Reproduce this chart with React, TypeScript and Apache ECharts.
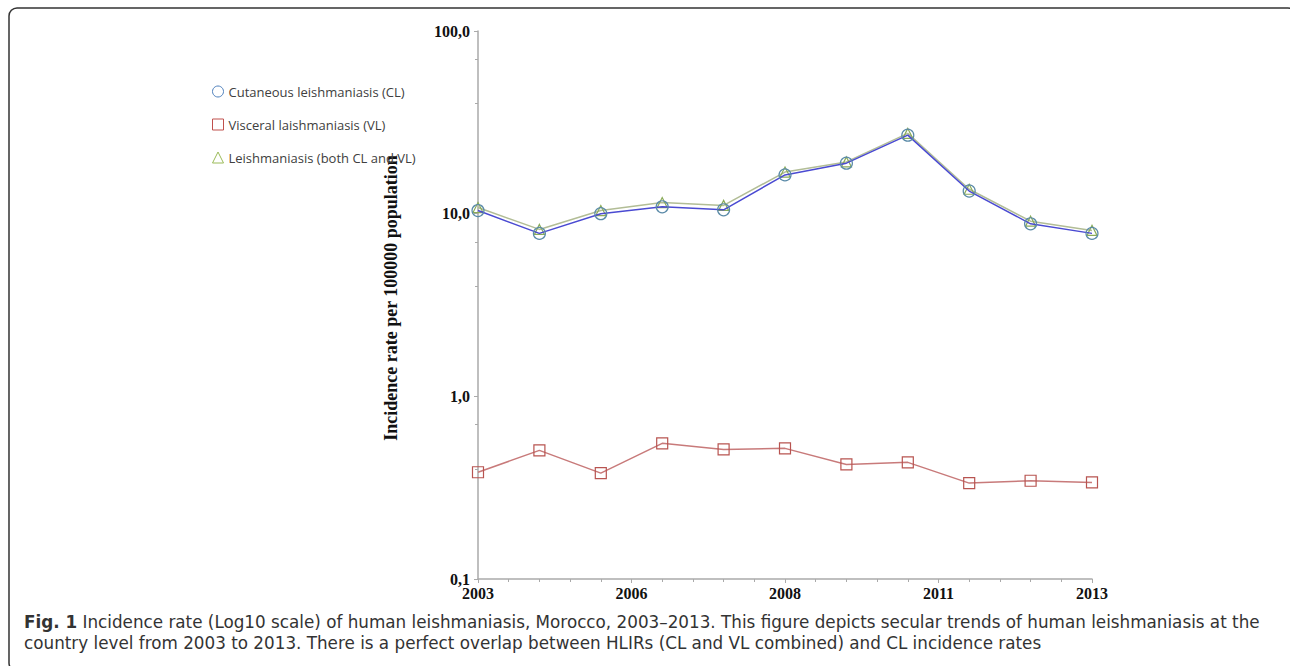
import React, { useEffect, useRef } from "react";
import * as echarts from "echarts";

const years = [2003, 2004, 2005, 2006, 2007, 2008, 2009, 2010, 2011, 2012, 2013];
const clValues = [10.4, 7.8, 10.0, 10.9, 10.5, 16.3, 18.9, 26.9, 13.3, 8.8, 7.8];
const vlValues = [0.384, 0.506, 0.38, 0.553, 0.512, 0.519, 0.424, 0.435, 0.335, 0.345, 0.338];
const bothValues = [10.8, 8.2, 10.4, 11.5, 11.1, 16.9, 19.2, 27.5, 13.6, 9.1, 8.1];
const seriesNames = [
  "Cutaneous leishmaniasis (CL)",
  "Visceral laishmaniasis (VL)",
  "Leishmaniasis (both CL and VL)",
];
const yAxisName = "Incidence rate per 100000 population";
const captionBold = "Fig. 1";
const captionLine1 =
  " Incidence rate (Log10 scale) of human leishmaniasis, Morocco, 2003\u20132013. This figure depicts secular trends of human leishmaniasis at the";
const captionLine2 =
  "country level from 2003 to 2013. There is a perfect overlap between HLIRs (CL and VL combined) and CL incidence rates";

const baseYear = years[0];
const toPoints = (vals: number[]) => vals.map((v, i) => [years[i] - baseYear, v]);

export default function App() {
  const ref = useRef<HTMLDivElement>(null);
  useEffect(() => {
    if (!ref.current) return;
    const chart = echarts.init(ref.current, null, { renderer: "svg" });
    const serif = "'Liberation Serif', 'Times New Roman', serif";
    const sans = "'Open Sans', 'Noto Sans', sans-serif";
    const captionFont = "'DejaVu Sans', 'Open Sans', sans-serif";
    chart.setOption({
      animation: false,
      backgroundColor: "#ffffff",
      grid: { left: 478, right: 198, top: 31, bottom: 87, containLabel: false },
      legend: {
        orient: "vertical",
        left: 207,
        top: 79,
        itemWidth: 11,
        itemHeight: 11,
        itemGap: 18,
        textStyle: { fontFamily: sans, fontSize: 13, color: "#404040", lineHeight: 15 },
        data: [
          { name: seriesNames[0], icon: "circle", itemStyle: { color: "rgba(0,0,0,0)", borderColor: "#4f81bd", borderWidth: 1 } },
          { name: seriesNames[1], icon: "rect", itemStyle: { color: "rgba(0,0,0,0)", borderColor: "#c0504d", borderWidth: 1 } },
          { name: seriesNames[2], icon: "triangle", itemStyle: { color: "rgba(0,0,0,0)", borderColor: "#9bbb59", borderWidth: 1 } },
        ],
      },
      xAxis: {
        type: "value",
        min: 0,
        max: years[years.length - 1] - baseYear,
        interval: 2.5,
        axisLine: { show: true, lineStyle: { color: "#aaaaaa", width: 1.5 } },
        axisTick: { show: true, length: 4, lineStyle: { color: "#aaaaaa" } },
        minorTick: { show: true, splitNumber: 5, length: 3, lineStyle: { color: "#aaaaaa" } },
        splitLine: { show: false },
        axisLabel: {
          fontFamily: serif,
          fontWeight: "bold",
          fontSize: 16,
          color: "#111",
          margin: 6,
          formatter: (v: number) => String(Math.round(v + baseYear)),
        },
      },
      yAxis: {
        type: "log",
        logBase: 10,
        min: 0.1,
        max: 100,
        name: yAxisName,
        nameLocation: "middle",
        nameGap: 78,
        nameTextStyle: {
          fontFamily: serif,
          fontWeight: "bold",
          fontSize: 18,
          color: "#111",
          padding: [0, 0, 0, 14],
        },
        axisLine: { show: true, lineStyle: { color: "#aaaaaa", width: 1.5 } },
        axisTick: { show: true, length: 4, lineStyle: { color: "#aaaaaa" } },
        minorTick: { show: true, splitNumber: 3, length: 3, lineStyle: { color: "#aaaaaa" } },
        splitLine: { show: false },
        axisLabel: {
          fontFamily: serif,
          fontWeight: "bold",
          fontSize: 16,
          color: "#111",
          margin: 8,
          formatter: (v: number) => v.toFixed(1).replace(".", ","),
        },
      },
      series: [
        {
          name: seriesNames[0],
          type: "line",
          data: toPoints(clValues),
          symbol: "circle",
          symbolSize: 12,
          lineStyle: { color: "#4a4ad2", width: 1.5 },
          itemStyle: { color: "rgba(0,0,0,0)", borderColor: "#5a8aa8", borderWidth: 1.2 },
          z: 3,
        },
        {
          name: seriesNames[1],
          type: "line",
          data: toPoints(vlValues),
          symbol: "rect",
          symbolSize: 11,
          lineStyle: { color: "#c87a7a", width: 1.5 },
          itemStyle: { color: "rgba(0,0,0,0)", borderColor: "#b85450", borderWidth: 1.2 },
          z: 3,
        },
        {
          name: seriesNames[2],
          type: "line",
          data: toPoints(bothValues),
          symbol: "triangle",
          symbolSize: 10,
          lineStyle: { color: "#b2bd96", width: 1.5 },
          itemStyle: { color: "rgba(0,0,0,0)", borderColor: "#8aab5a", borderWidth: 1.2 },
          z: 2,
        },
      ],
      graphic: [
        {
          type: "rect",
          shape: { x: 9, y: 8, width: 1287, height: 663, r: 8 },
          style: { fill: "none", stroke: "#333333", lineWidth: 1.5 },
          silent: true,
        },
        {
          type: "text",
          left: 24,
          top: 612,
          style: {
            text: "{b|" + captionBold + "}" + captionLine1,
            font: "16.8px " + captionFont,
            lineHeight: 20,
            fill: "#333333",
            rich: {
              b: { fontWeight: "bold", fontSize: 16.8, lineHeight: 20, fontFamily: captionFont, fill: "#333333" },
            },
          },
        },
        {
          type: "text",
          left: 24,
          top: 633,
          style: {
            text: captionLine2,
            font: "16.8px " + captionFont,
            lineHeight: 20,
            fill: "#333333",
          },
        },
      ],
    });
    return () => chart.dispose();
  }, []);
  return (
    <div
      ref={ref}
      style={{ position: "absolute", left: 0, top: 0, width: 1290, height: 666 }}
    />
  );
}
